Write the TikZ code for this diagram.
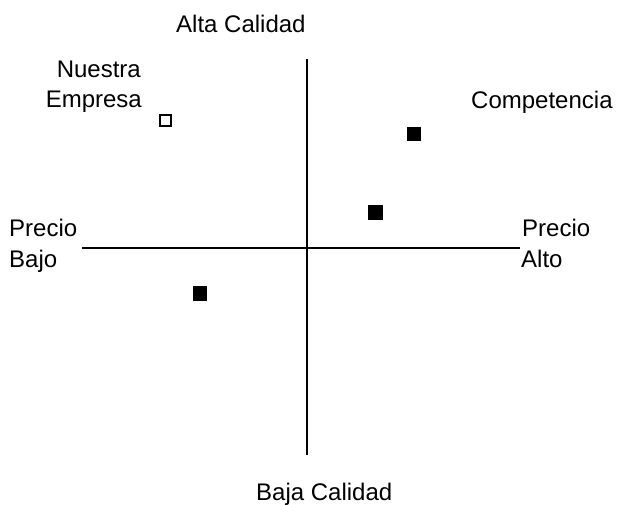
\documentclass[tikz,border=0pt]{standalone}
\usepackage{fontspec}
\setmainfont{Liberation Sans}
\begin{document}
\begin{tikzpicture}[x=1pt,y=-1pt,
  lbl/.style={inner sep=0pt,font=\fontsize{24}{30.5}\selectfont},
  axis/.style={line width=2pt,black},
  comp/.style={fill=black,draw=none,minimum size=14.5pt,inner sep=0pt,rectangle},
  ours/.style={draw=black,line width=2pt,fill=white,minimum size=11pt,inner sep=0pt,rectangle}]
\useasboundingbox (0,0) rectangle (617,504);
\fill[white] (0,0) rectangle (617,504);
\coordinate (vtop) at (306.5,59);
\coordinate (vbot) at (306.5,455);
\coordinate (hl) at (82,248);
\coordinate (hr) at (520,248);
\draw[axis] (vtop) -- (vbot);
\draw[axis] (hl) -- (hr);
\node[lbl,anchor=base west] (alta) at (176,32) {Alta Calidad};
\node[lbl,anchor=base west] (baja) at (256,500) {Baja Calidad};
\node[lbl,anchor=base east] (n1) at (141,77) {Nuestra};
\node[lbl,anchor=base east] (n2) at (142,107) {Empresa};
\node[lbl,anchor=base west] (compt) at (471,108) {Competencia};
\node[lbl,anchor=base west] (pb1) at (9,236) {Precio};
\node[lbl,anchor=base west] (pb2) at (9,267) {Bajo};
\node[lbl,anchor=base west] (pa1) at (522,236) {Precio};
\node[lbl,anchor=base west] (pa2) at (521,267) {Alto};
\node[ours] (empresa) at (165,120) {};
\node[comp] (c1) at (414,134) {};
\node[comp] (c2) at (375.5,212.5) {};
\node[comp] (c3) at (200,293.5) {};
\end{tikzpicture}
\end{document}
